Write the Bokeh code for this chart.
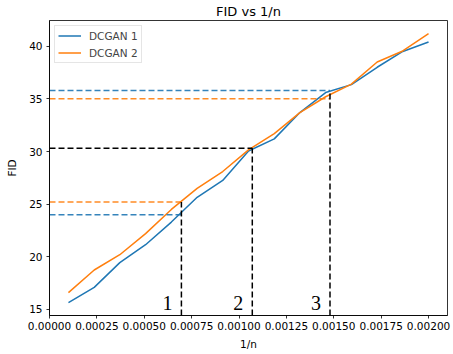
from bokeh.plotting import figure
from bokeh.models import Range1d, FixedTicker, PrintfTickFormatter, Legend, LegendItem, Title, ColumnDataSource
from bokeh.core.properties import value
from bokeh.embed import file_html
from bokeh.resources import INLINE

# ---- data ----
inv_n = [0.0001, 0.000236, 0.000371, 0.000507, 0.000643, 0.000779, 0.000914,
         0.00105, 0.001186, 0.001321, 0.001457, 0.001593, 0.001729, 0.001864, 0.002]
dcgan1 = [15.65, 17.1, 19.45, 21.15, 23.3, 25.65, 27.25, 30.05, 31.2, 33.7,
          35.6, 36.35, 38.0, 39.5, 40.4]
dcgan2 = [16.6, 18.75, 20.2, 22.2, 24.5, 26.5, 28.1, 30.15, 31.7, 33.7,
          35.2, 36.4, 38.5, 39.55, 41.2]

# marked points: x position, FID of DCGAN 1 and DCGAN 2
mark_x = [0.000696, 0.00107, 0.00148]
mark_fid1 = [24.0, 30.3, 35.8]
mark_fid2 = [25.2, 30.3, 35.0]
mark_names = ["1", "2", "3"]

x_ticks = [0.0, 0.00025, 0.0005, 0.00075, 0.001, 0.00125, 0.0015, 0.00175, 0.002]
y_ticks = [15, 20, 25, 30, 35, 40]

BLUE = "#1f77b4"
ORANGE = "#ff7f0e"
FONT = "DejaVu Sans"

X0, X1 = 0.0, 0.0021
Y0, Y1 = 14.43, 42.44

p = figure(width=453, height=354, output_backend="svg", toolbar_location=None,
           title=None, x_range=Range1d(X0, X1), y_range=Range1d(Y0, Y1),
           min_border_left=49, min_border_right=6, min_border_top=20, min_border_bottom=39)
p.background_fill_color = "white"
p.border_fill_color = "white"
p.xgrid.visible = False
p.ygrid.visible = False
p.outline_line_color = "black"
p.outline_line_width = 0.8
p.outline_line_alpha = 1.0

for ax in (p.xaxis[0], p.yaxis[0]):
    ax.axis_line_color = "black"
    ax.axis_line_width = 0.8
    ax.major_tick_line_color = "black"
    ax.major_tick_line_width = 0.8
    ax.major_tick_out = 3
    ax.major_tick_in = 0
    ax.minor_tick_line_color = None
    ax.major_label_text_font = FONT
    ax.major_label_text_font_size = "10.5px"
    ax.major_label_text_color = "black"
    ax.axis_label_text_font = FONT
    ax.axis_label_text_font_size = "10.5px"
    ax.axis_label_text_font_style = "normal"
    ax.axis_label_text_color = "black"

p.xaxis.ticker = FixedTicker(ticks=x_ticks)
p.xaxis.formatter = PrintfTickFormatter(format="%.5f")
p.xaxis.axis_label = "1/n"
p.xaxis.major_label_standoff = 3
p.xaxis.axis_label_standoff = 5
p.yaxis.ticker = FixedTicker(ticks=y_ticks)
p.yaxis.axis_label = "FID"
p.yaxis.major_label_standoff = 4
p.yaxis.axis_label_standoff = 8

r1 = p.line(inv_n, dcgan1, line_color=BLUE, line_width=1.5)
r2 = p.line(inv_n, dcgan2, line_color=ORANGE, line_width=1.5)

# dashed guide lines
top_y = [max(a, b) for a, b in zip(mark_fid1, mark_fid2)]
h_src = ColumnDataSource(dict(
    x0=[X0] * 4,
    x1=[mark_x[0], mark_x[0], mark_x[2], mark_x[2]],
    y=[mark_fid1[0], mark_fid2[0], mark_fid1[2], mark_fid2[2]],
    c=[BLUE, ORANGE, BLUE, ORANGE],
))
p.segment(x0="x0", y0="y", x1="x1", y1="y", source=h_src, line_color="c",
          line_width=1.5, line_dash="6 3", line_alpha=0.9)
p.segment(x0=[X0], y0=[mark_fid1[1]], x1=[mark_x[1]], y1=[mark_fid1[1]],
          line_color="black", line_width=1.5, line_dash="6 3")
p.segment(x0=mark_x, y0=[Y0] * 3, x1=mark_x, y1=top_y,
          line_color="black", line_width=1.5, line_dash="6 3")

# number labels next to the vertical lines
p.text(x=[m - 0.0001 for m in mark_x], y=[15.6] * 3, text=mark_names,
       text_font=value("Liberation Serif"), text_font_size="20px",
       text_align="left", text_baseline="alphabetic", text_color="black")

legend = Legend(items=[LegendItem(label="DCGAN 1", renderers=[r1]),
                       LegendItem(label="DCGAN 2", renderers=[r2])],
                location="top_left", margin=5, padding=3, spacing=4,
                glyph_width=23, glyph_height=13, label_height=13, label_standoff=8,
                label_text_font=FONT, label_text_font_size="10.5px",
                border_line_color="#cccccc", border_line_width=1,
                background_fill_alpha=0.8)
p.add_layout(legend)

p.add_layout(Title(text="FID vs 1/n", align="center", vertical_align="top",
                   text_font=FONT, text_font_size="13px", text_font_style="normal",
                   text_color="black", standoff=0, offset=0), "above")

open("out.html", "w").write(file_html(p, INLINE))
